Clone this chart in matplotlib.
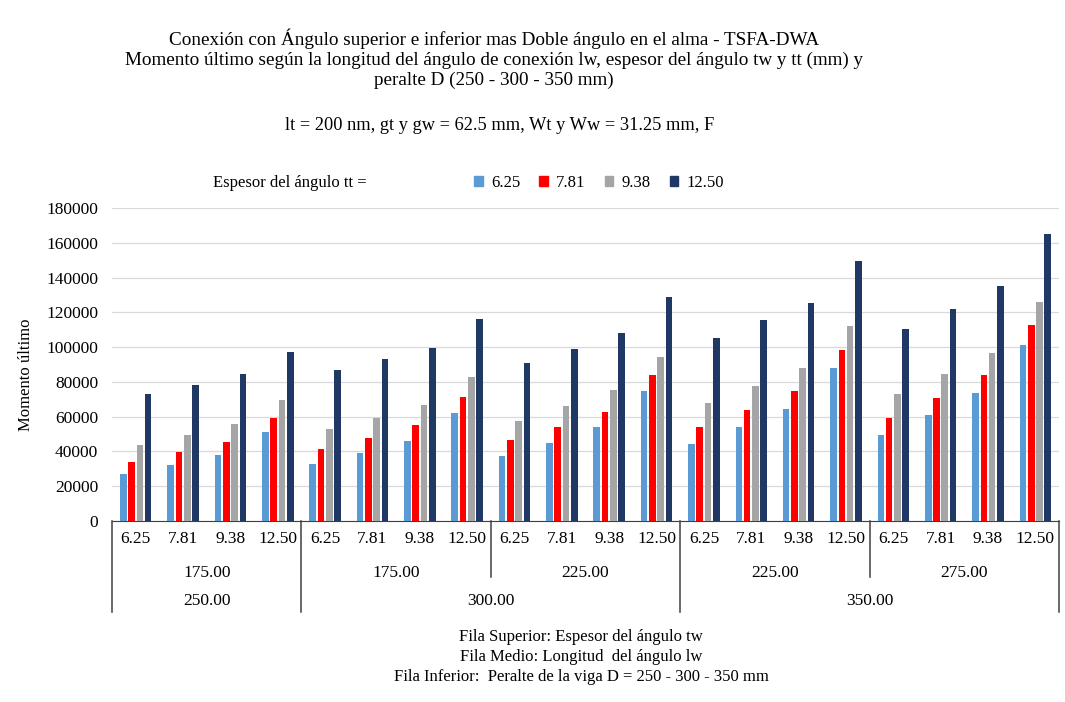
import matplotlib.pyplot as plt
from matplotlib.patches import Patch
import numpy as np

plt.rcParams['font.family'] = ['Liberation Serif', 'DejaVu Serif']

# series: espesor del angulo tt
espesor_tt = ['6.25', '7.81', '9.38', '12.50']
colores = ['#5B9BD5', '#FF0000', '#A5A5A5', '#1F3864']

# categorias (3 filas)
espesor_tw = ['6.25', '7.81', '9.38', '12.50'] * 5
longitud_lw = ['175.00', '175.00', '225.00', '225.00', '275.00']
peralte_d = ['250.00', '300.00', '350.00']
lw_por_d = [1, 2, 2]

# momento ultimo
m_625 = [26800, 32000, 37900, 51300, 32600, 39300, 46000, 62300, 37400, 45000,
         54200, 74700, 44400, 54000, 64200, 88100, 49400, 60700, 73800, 101500]
m_781 = [34100, 39500, 45600, 59000, 41200, 47900, 55000, 71500, 46400, 54200,
         62800, 83700, 54200, 63800, 74700, 98300, 59400, 70900, 83700, 112600]
m_938 = [44000, 49400, 55600, 69500, 53000, 59400, 66700, 82800, 57500, 66100,
         75100, 94400, 68000, 77600, 88100, 112000, 73200, 84700, 96700, 125900]
m_1250 = [72800, 78500, 84300, 97300, 86600, 93300, 99600, 115900, 91000, 99000,
          108200, 128700, 105400, 115500, 125500, 149800, 110500, 122200, 135000, 164800]

series = [m_625, m_781, m_938, m_1250]

fig = plt.figure(figsize=(10.65, 7.02), dpi=100)
ax = fig.add_axes([0.1052, 0.2578, 0.8892, 0.4459])

x = np.arange(len(espesor_tw))
paso = 0.175
ancho = 0.14
for i, (vals, col) in enumerate(zip(series, colores)):
    ax.bar(x + (i - 1.5) * paso, vals, width=ancho, color=col, zorder=3)

ax.set_xlim(-0.5, len(espesor_tw) - 0.5)
ax.set_ylim(0, 180000)
ax.set_yticks(range(0, 180001, 20000))
ax.tick_params(axis='y', length=0, labelsize=12.5, pad=10)
ax.set_xticks(x)
ax.set_xticklabels(espesor_tw, fontsize=12.5)
ax.tick_params(axis='x', length=0, pad=7)
ax.grid(axis='y', color='#D9D9D9', linewidth=0.9, zorder=0)
for s in ['left', 'right', 'top']:
    ax.spines[s].set_visible(False)
ax.spines['bottom'].set_color('#404040')
ax.set_ylabel('Momento último', fontsize=12, labelpad=8)
ax.yaxis.set_label_coords(-0.082, 0.466)

# filas de categorias
tr = ax.get_xaxis_transform()
inicio = 0
for lw in longitud_lw:
    ax.text(inicio + 1.5, -0.166, lw, transform=tr, ha='center', va='center', fontsize=12.5)
    inicio += 4
inicio = 0
for d, n in zip(peralte_d, lw_por_d):
    ax.text(inicio + n * 2 - 0.5, -0.256, d, transform=tr, ha='center', va='center', fontsize=12.5)
    inicio += n * 4

# separadores
for b in [-0.5, 3.5, 11.5, 19.5]:
    ax.plot([b, b], [0, -0.29], transform=tr, clip_on=False, color='#404040', lw=1.1)
for b in [7.5, 15.5]:
    ax.plot([b, b], [0, -0.18], transform=tr, clip_on=False, color='#404040', lw=1.1)

# titulos
fig.text(494 / 1065, 1 - 59 / 702, 'Conexión con Ángulo superior e inferior mas Doble ángulo en el alma - TSFA-DWA\n'
         'Momento último según la longitud del ángulo de conexión lw, espesor del ángulo tw y tt (mm) y\n'
         'peralte D (250 - 300 - 350 mm)', ha='center', va='center', fontsize=13.8, linespacing=1.22)
fig.text(500 / 1065, 1 - 126 / 702, 'lt = 200 nm, gt y gw = 62.5 mm, Wt y Ww = 31.25 mm, F',
         ha='center', va='center', fontsize=13.2)

# leyenda
fig.text(213 / 1065, 1 - 183 / 702, 'Espesor del ángulo tt =', ha='left', va='center', fontsize=12)
handles = [Patch(color=c, label=l) for c, l in zip(colores, espesor_tt)]
fig.legend(handles=handles, ncol=4, loc='center', bbox_to_anchor=(599 / 1065, 1 - 183 / 702),
           frameon=False, fontsize=12, handlelength=0.5, handleheight=0.5,
           handletextpad=0.5, columnspacing=1.15)

# notas
fig.text(581 / 1065, 1 - 657 / 702, 'Fila Superior: Espesor del ángulo tw\n'
         'Fila Medio: Longitud  del ángulo lw\n'
         'Fila Inferior:  Peralte de la viga D = 250 - 300 - 350 mm',
         ha='center', va='center', fontsize=12, linespacing=1.32)

fig.savefig('out.png', dpi=100)
